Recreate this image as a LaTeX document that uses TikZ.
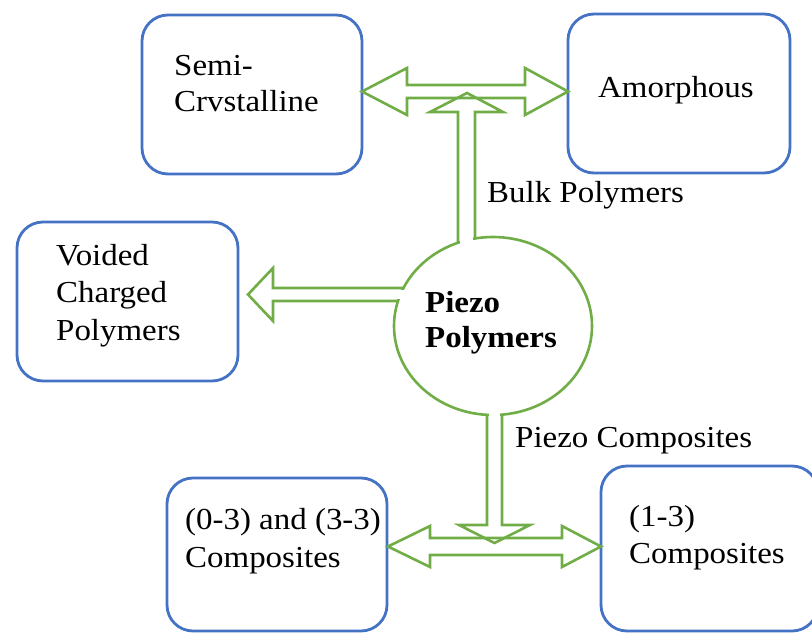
\documentclass[tikz,border=0pt]{standalone}
\usepackage{fontspec}
\setmainfont{Liberation Serif}[FakeStretch=1.08]
\usetikzlibrary{shapes.geometric}
\definecolor{boxblue}{RGB}{68,114,196}
\definecolor{arrgreen}{RGB}{112,173,71}
\begin{document}
\begin{tikzpicture}[x=1pt,y=-1pt,
  box/.style={draw=boxblue, line width=2.8pt, rounded corners=26pt, inner sep=0pt},
  txt/.style={anchor=base west, inner sep=0pt, font=\fontsize{30.5}{37}\selectfont},
  btxt/.style={txt, font=\fontsize{30.5}{37}\selectfont\bfseries},
  arr/.style={draw=arrgreen, line width=2.6pt, line join=miter},
  hole/.style={fill=white}]
\useasboundingbox (0,0) rectangle (812,635);
% boxes
\node[box, minimum width=220pt, minimum height=159pt] (semi) at (252,94.5) {};
\node[box, minimum width=222pt, minimum height=159pt] (amor) at (679,93.5) {};
\node[box, minimum width=221pt, minimum height=159pt] (void) at (127.5,301.5) {};
\node[box, minimum width=220pt, minimum height=153pt] (c03) at (277,554.5) {};
\node[box, minimum width=217pt, minimum height=165pt] (c13) at (709.5,548.5) {};
% centre
\node[draw=arrgreen, line width=2.6pt, ellipse, minimum width=198pt, minimum height=178pt, inner sep=0pt] (pz) at (493,326) {};
% openings in the ellipse
\fill[hole] (459.6,228) rectangle (473.4,252);
\fill[hole] (392,289.6) rectangle (412,299.4);
\fill[hole] (488.6,405) rectangle (500.4,425);
% top horizontal double arrow
\draw[arr] (362,91.5) -- (407,68) -- (407,85) -- (525,85) -- (525,68) -- (568,91.5)
  -- (525,115) -- (525,98) -- (407,98) -- (407,115) -- cycle;
% top vertical arrow
\draw[arr] (458,243) -- (458,112) -- (430,112) -- (467,93) -- (503,112) -- (475,112) -- (475,238.5);
% left arrow
\draw[arr] (404,288) -- (273,288) -- (273,268) -- (248,294.5) -- (273,321) -- (273,301) -- (398,301);
% bottom vertical arrow
\draw[arr] (487,415) -- (487,525) -- (459,525) -- (494.5,543) -- (530,525) -- (502,525) -- (502,414.6);
% bottom horizontal double arrow
\draw[arr] (388,546.5) -- (430,526) -- (430,538) -- (562,538) -- (562,526) -- (601,546.5)
  -- (562,567) -- (562,555) -- (430,555) -- (430,567) -- cycle;
% texts
\node[txt] (semiA) at (174,75) {Semi-};
\node[txt] (semiB) at (174,111) {Crvstalline};
\node[txt] (amorA) at (598,97) {Amorphous};
\node[txt] (voidA) at (56,265) {Voided};
\node[txt] (voidB) at (56,302) {Charged};
\node[txt] (voidC) at (56,340) {Polymers};
\node[btxt] (pzA) at (425,312) {Piezo};
\node[btxt] (pzB) at (425,347) {Polymers};
\node[txt] (bulk) at (487,202) {Bulk Polymers};
\node[txt] (pcomp) at (515,447) {Piezo Composites};
\node[txt] (c03A) at (185,529) {(0-3) and (3-3)};
\node[txt] (c03B) at (185,567) {Composites};
\node[txt] (c13A) at (629,526) {(1-3)};
\node[txt] (c13B) at (629,563) {Composites};
\end{tikzpicture}
\end{document}
